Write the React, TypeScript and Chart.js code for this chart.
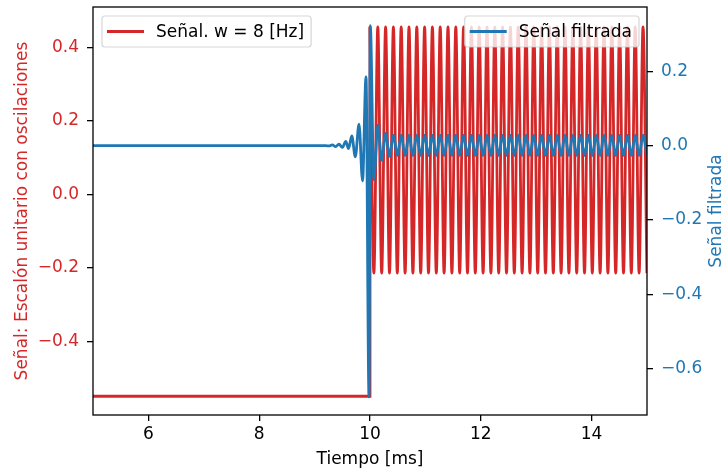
import React, { useEffect, useRef } from 'react';
import { Chart, registerables } from 'chart.js';

Chart.register(...registerables);

const RED = '#d62728';
const BLUE = '#1f77b4';
const FONT_FAMILY = "'DejaVu Sans', 'Liberation Sans', sans-serif";
const FONT_SIZE = 17;
const LINE_W = 2.8;

// Axis ticks / labels
const xTicks = [6, 8, 10, 12, 14];
const xTickLabels = ['6', '8', '10', '12', '14'];
const leftTicks = [-0.4, -0.2, 0.0, 0.2, 0.4];
const leftTickLabels = ['\u22120.4', '\u22120.2', '0.0', '0.2', '0.4'];
const rightTicks = [-0.6, -0.4, -0.2, 0.0, 0.2];
const rightTickLabels = ['\u22120.6', '\u22120.4', '\u22120.2', '0.0', '0.2'];

const xRange = [5, 15];
const leftRange = [-0.6, 0.51];
const rightRange = [-0.725, 0.373];

const xTitle = 'Tiempo [ms]';
const leftTitle = 'Señal: Escalón unitario con oscilaciones';
const rightTitle = 'Señal filtrada';
const redLabel = 'Señal. w = 8 [Hz]';
const blueLabel = 'Señal filtrada';

// Red signal: constant level, then step at t = 10 ms
const redStepT = [5, 10, 10];
const redStepY = [-0.549, -0.549, 0.456];

// Red oscillation: peaks and troughs, sampled every half period from t = 10 ms
const HALF_PERIOD_MS = 0.0704;
const redOscStart = 10;
const redOscY = [
  0.456, -0.214, 0.456, -0.214, 0.456, -0.214, 0.456, -0.214, 0.456, -0.214, 0.456, -0.214,
  0.456, -0.214, 0.456, -0.214, 0.456, -0.214, 0.456, -0.214, 0.456, -0.214, 0.456, -0.214,
  0.456, -0.214, 0.456, -0.214, 0.456, -0.214, 0.456, -0.214, 0.456, -0.214, 0.456, -0.214,
  0.456, -0.214, 0.456, -0.214, 0.456, -0.214, 0.456, -0.214, 0.456, -0.214, 0.456, -0.214,
  0.456, -0.214, 0.456, -0.214, 0.456, -0.214, 0.456, -0.214, 0.456, -0.214, 0.456, -0.214,
  0.456, -0.214, 0.456, -0.214, 0.456, -0.214, 0.456, -0.214, 0.456, -0.214, 0.456, -0.214,
];

// Blue (filtered) signal: pre-ringing and step response
const blueHeadT = [5, 9.2, 9.26, 9.32, 9.38, 9.44, 9.5, 9.563, 9.613, 9.671, 9.735, 9.802, 9.865, 9.928, 9.982, 10.005, 10.07];
const blueHeadY = [0, 0, -0.001, 0.002, -0.003, 0.004, -0.005, 0.011, -0.008, 0.026, -0.03, 0.058, -0.095, 0.185, -0.676, 0.323, -0.092];
// Blue steady oscillation, peaks/troughs every half period from t = 10.141 ms
const blueTailStart = 10.141;
const blueTailY = [
  0.055, -0.04, 0.033, -0.029,
  0.028, -0.027, 0.028, -0.027, 0.028, -0.027, 0.028, -0.027, 0.028, -0.027, 0.028, -0.027,
  0.028, -0.027, 0.028, -0.027, 0.028, -0.027, 0.028, -0.027, 0.028, -0.027, 0.028, -0.027,
  0.028, -0.027, 0.028, -0.027, 0.028, -0.027, 0.028, -0.027, 0.028, -0.027, 0.028, -0.027,
  0.028, -0.027, 0.028, -0.027, 0.028, -0.027, 0.028, -0.027, 0.028, -0.027, 0.028, -0.027,
  0.028, -0.027, 0.028, -0.027, 0.028, -0.027, 0.028, -0.027, 0.028, -0.027, 0.028, -0.027,
  0.028, -0.027, 0.028, -0.027, 0.028, -0.027,
];

const FONT = `${FONT_SIZE}px ${FONT_FAMILY}`;

function drawLegend(ctx: CanvasRenderingContext2D, x: number, y: number, color: string, label: string, alignRight: boolean) {
  ctx.font = FONT;
  const tw = ctx.measureText(label).width;
  const w = 5 + 37 + 12 + tw + 7;
  const h = 31;
  const bx = alignRight ? x - w : x;
  ctx.beginPath();
  (ctx as any).roundRect(bx, y, w, h, 3);
  ctx.fillStyle = 'rgba(255,255,255,0.8)';
  ctx.fill();
  ctx.strokeStyle = 'rgba(204,204,204,0.8)';
  ctx.lineWidth = 1.2;
  ctx.stroke();
  ctx.beginPath();
  ctx.strokeStyle = color;
  ctx.lineWidth = LINE_W;
  ctx.moveTo(bx + 5, y + 15.5);
  ctx.lineTo(bx + 42, y + 15.5);
  ctx.stroke();
  ctx.fillStyle = '#000';
  ctx.textAlign = 'left';
  ctx.textBaseline = 'alphabetic';
  ctx.fillText(label, bx + 54, y + 21);
}

const decorPlugin = {
  id: 'decor',
  afterDatasetsDraw(chart: any) {
    const { ctx, chartArea: a } = chart;
    ctx.save();
    ctx.strokeStyle = '#000';
    ctx.lineWidth = 1.3;
    ctx.strokeRect(a.left, a.top, a.right - a.left, a.bottom - a.top);

    drawLegend(ctx, a.left + 9, a.top + 9, RED, redLabel, false);
    drawLegend(ctx, a.right - 8, a.top + 9, BLUE, blueLabel, true);

    const cy = (a.top + a.bottom) / 2;
    ctx.font = FONT;
    ctx.textAlign = 'center';
    ctx.textBaseline = 'alphabetic';
    ctx.save();
    ctx.fillStyle = RED;
    ctx.translate(26.5, cy);
    ctx.rotate(-Math.PI / 2);
    ctx.fillText(leftTitle, 0, 0);
    ctx.restore();
    ctx.save();
    ctx.fillStyle = BLUE;
    ctx.translate(721, cy);
    ctx.rotate(-Math.PI / 2);
    ctx.fillText(rightTitle, 0, 0);
    ctx.restore();
    ctx.restore();
  },
};

export default function App() {
  const ref = useRef<HTMLCanvasElement>(null);
  useEffect(() => {
    const canvas = ref.current;
    if (!canvas) return;
    const redStep = redStepT.map((x, i) => ({ x, y: redStepY[i] }));
    const redOsc = redOscY.map((y, i) => ({ x: redOscStart + i * HALF_PERIOD_MS, y }));
    const blue = [
      ...blueHeadT.map((x, i) => ({ x, y: blueHeadY[i] })),
      ...blueTailY.map((y, i) => ({ x: blueTailStart + i * HALF_PERIOD_MS, y })),
    ];
    const tickFont = { family: FONT_FAMILY, size: FONT_SIZE };
    const gridCfg = { drawOnChartArea: false, drawTicks: true, tickLength: 6, tickColor: '#000', lineWidth: 1.3 };
    const chart = new Chart(canvas, {
      type: 'line',
      data: {
        datasets: [
          {
            label: blueLabel,
            data: blue,
            yAxisID: 'y1',
            borderColor: BLUE,
            borderWidth: LINE_W,
            pointRadius: 0,
            cubicInterpolationMode: 'monotone',
            order: 0,
          },
          {
            label: redLabel,
            data: redOsc,
            yAxisID: 'y',
            borderColor: RED,
            borderWidth: LINE_W,
            pointRadius: 0,
            cubicInterpolationMode: 'monotone',
            order: 1,
          },
          {
            label: redLabel + ' step',
            data: redStep,
            yAxisID: 'y',
            borderColor: RED,
            borderWidth: LINE_W,
            pointRadius: 0,
            tension: 0,
            order: 2,
          },
        ],
      },
      options: {
        responsive: false,
        maintainAspectRatio: false,
        animation: false,
        devicePixelRatio: 1,
        parsing: false,
        normalized: true,
        layout: { padding: { top: 7, left: 0, right: 0, bottom: 0 } },
        plugins: { legend: { display: false }, tooltip: { enabled: false } },
        scales: {
          x: {
            type: 'linear',
            min: xRange[0],
            max: xRange[1],
            afterBuildTicks: (s: any) => { s.ticks = xTicks.map((v) => ({ value: v })); },
            afterFit: (s: any) => { s.height = 56; s.paddingLeft = 0; s.paddingRight = 0; },
            ticks: {
              callback: (_v: any, i: number) => xTickLabels[i],
              font: tickFont,
              color: '#000',
              padding: 3.8,
              maxRotation: 0,
              autoSkip: false,
            },
            grid: gridCfg,
            border: { display: false },
            title: {
              display: true,
              text: xTitle,
              color: '#000',
              font: tickFont,
              padding: { top: 0, bottom: 1 },
            },
          },
          y: {
            type: 'linear',
            position: 'left',
            min: leftRange[0],
            max: leftRange[1],
            afterBuildTicks: (s: any) => { s.ticks = leftTicks.map((v) => ({ value: v })); },
            afterFit: (s: any) => { s.width = 93; s.paddingTop = 0; s.paddingBottom = 0; },
            ticks: {
              callback: (_v: any, i: number) => leftTickLabels[i],
              font: tickFont,
              color: RED,
              padding: 8,
              autoSkip: false,
            },
            grid: gridCfg,
            border: { display: false },
          },
          y1: {
            type: 'linear',
            position: 'right',
            min: rightRange[0],
            max: rightRange[1],
            afterBuildTicks: (s: any) => { s.ticks = rightTicks.map((v) => ({ value: v })); },
            afterFit: (s: any) => { s.width = 79; s.paddingTop = 0; s.paddingBottom = 0; },
            ticks: {
              callback: (_v: any, i: number) => rightTickLabels[i],
              font: tickFont,
              color: BLUE,
              padding: 8,
              autoSkip: false,
            },
            grid: gridCfg,
            border: { display: false },
          },
        },
      },
      plugins: [decorPlugin],
    } as any);
    return () => chart.destroy();
  }, []);
  return (
    <div style={{ position: 'fixed', left: 0, top: 0, width: 726, height: 471, background: '#fff' }}>
      <canvas ref={ref} width={726} height={471} style={{ width: 726, height: 471, display: 'block' }} />
    </div>
  );
}
